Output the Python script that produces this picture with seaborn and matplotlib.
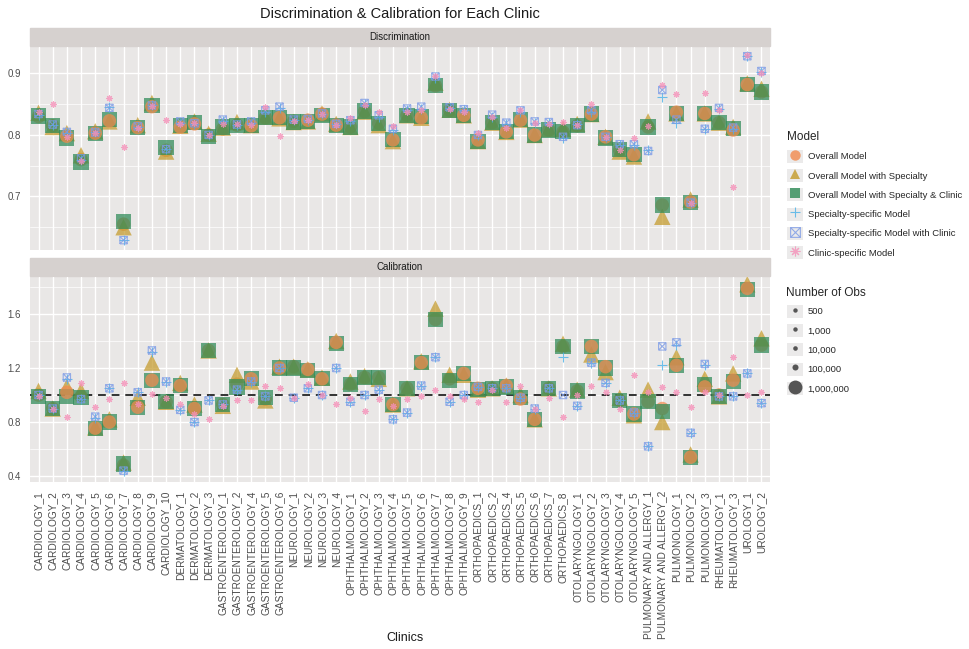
import numpy as np
import pandas as pd
import matplotlib
matplotlib.use("Agg")
import matplotlib.pyplot as plt
from matplotlib.path import Path
from matplotlib.lines import Line2D
from matplotlib.patches import Rectangle
import seaborn as sns

clinics = [
    "CARDIOLOGY_1", "CARDIOLOGY_2", "CARDIOLOGY_3", "CARDIOLOGY_4", "CARDIOLOGY_5",
    "CARDIOLOGY_6", "CARDIOLOGY_7", "CARDIOLOGY_8", "CARDIOLOGY_9", "CARDIOLOGY_10",
    "DERMATOLOGY_1", "DERMATOLOGY_2", "DERMATOLOGY_3",
    "GASTROENTEROLOGY_1", "GASTROENTEROLOGY_2", "GASTROENTEROLOGY_4",
    "GASTROENTEROLOGY_5", "GASTROENTEROLOGY_6",
    "NEUROLOGY_1", "NEUROLOGY_2", "NEUROLOGY_3", "NEUROLOGY_4",
    "OPHTHALMOLOGY_1", "OPHTHALMOLOGY_2", "OPHTHALMOLOGY_3", "OPHTHALMOLOGY_4",
    "OPHTHALMOLOGY_5", "OPHTHALMOLOGY_6", "OPHTHALMOLOGY_7", "OPHTHALMOLOGY_8",
    "OPHTHALMOLOGY_9",
    "ORTHOPAEDICS_1", "ORTHOPAEDICS_2", "ORTHOPAEDICS_4", "ORTHOPAEDICS_5",
    "ORTHOPAEDICS_6", "ORTHOPAEDICS_7", "ORTHOPAEDICS_8",
    "OTOLARYNGOLOGY_1", "OTOLARYNGOLOGY_2", "OTOLARYNGOLOGY_3", "OTOLARYNGOLOGY_4",
    "OTOLARYNGOLOGY_5",
    "PULMONARY AND ALLERGY_1", "PULMONARY AND ALLERGY_2",
    "PULMONOLOGY_1", "PULMONOLOGY_2", "PULMONOLOGY_3",
    "RHEUMATOLOGY_1", "RHEUMATOLOGY_3",
    "UROLOGY_1", "UROLOGY_2",
]

models = [
    "Overall Model",
    "Overall Model with Specialty",
    "Overall Model with Specialty & Clinic",
    "Specialty-specific Model",
    "Specialty-specific Model with Clinic",
    "Clinic-specific Model",
]

# discrimination (c-statistic), one list per model
disc_om = [0.830, 0.815, 0.798, 0.760, 0.803, 0.823, 0.655, 0.812, 0.846, 0.775,
           0.813, 0.818, 0.800, 0.810, 0.816, 0.815, 0.828, 0.828, 0.822, 0.824,
           0.834, 0.816, 0.813, 0.838, 0.819, 0.792, 0.832, 0.828, 0.880, 0.840,
           0.832, 0.792, 0.820, 0.805, 0.824, 0.800, 0.808, 0.805, 0.815, 0.834,
           0.797, 0.775, 0.768, 0.813, 0.686, 0.837, 0.691, 0.835, 0.820, 0.808,
           0.882, 0.870]
disc_oms = [0.836, 0.813, 0.803, 0.767, 0.806, 0.822, 0.650, 0.816, 0.852, 0.773,
            0.815, 0.822, 0.802, 0.812, 0.821, 0.816, 0.830, 0.827, 0.821, 0.822,
            0.835, 0.818, 0.813, 0.838, 0.816, 0.790, 0.832, 0.828, 0.885, 0.841,
            0.832, 0.790, 0.820, 0.805, 0.825, 0.800, 0.810, 0.810, 0.818, 0.834,
            0.797, 0.773, 0.765, 0.822, 0.667, 0.835, 0.695, 0.835, 0.820, 0.813,
            0.884, 0.875]
disc_omsc = [0.831, 0.815, 0.795, 0.756, 0.803, 0.825, 0.659, 0.812, 0.848, 0.779,
             0.815, 0.820, 0.797, 0.813, 0.815, 0.815, 0.829, 0.828, 0.821, 0.822,
             0.832, 0.815, 0.813, 0.839, 0.819, 0.792, 0.832, 0.830, 0.880, 0.840,
             0.832, 0.790, 0.820, 0.805, 0.825, 0.800, 0.808, 0.805, 0.815, 0.834,
             0.795, 0.776, 0.768, 0.813, 0.686, 0.835, 0.690, 0.835, 0.820, 0.810,
             0.882, 0.870]
disc_ss = [0.832, 0.816, 0.803, 0.760, 0.805, 0.846, 0.629, 0.813, 0.849, 0.777,
           0.820, 0.818, 0.800, 0.822, 0.816, 0.820, 0.838, 0.844, 0.824, 0.825,
           0.834, 0.818, 0.822, 0.850, 0.830, 0.808, 0.841, 0.843, 0.892, 0.844,
           0.840, 0.800, 0.830, 0.818, 0.838, 0.820, 0.820, 0.795, 0.818, 0.838,
           0.797, 0.783, 0.783, 0.775, 0.862, 0.820, 0.690, 0.810, 0.842, 0.810,
           0.928, 0.902]
disc_ssc = [0.834, 0.817, 0.805, 0.762, 0.804, 0.844, 0.629, 0.814, 0.848, 0.777,
            0.822, 0.819, 0.800, 0.825, 0.817, 0.822, 0.840, 0.846, 0.825, 0.826,
            0.835, 0.818, 0.824, 0.852, 0.832, 0.810, 0.843, 0.846, 0.895, 0.845,
            0.842, 0.800, 0.833, 0.820, 0.840, 0.822, 0.821, 0.797, 0.816, 0.840,
            0.797, 0.785, 0.785, 0.774, 0.873, 0.825, 0.690, 0.810, 0.844, 0.812,
            0.928, 0.904]
disc_cs = [0.838, 0.850, 0.796, 0.758, 0.803, 0.860, 0.780, 0.812, 0.847, 0.825,
           0.818, 0.820, 0.800, 0.818, 0.818, 0.817, 0.845, 0.798, 0.822, 0.824,
           0.834, 0.816, 0.827, 0.848, 0.837, 0.815, 0.838, 0.840, 0.896, 0.843,
           0.838, 0.803, 0.830, 0.812, 0.840, 0.820, 0.818, 0.821, 0.816, 0.850,
           0.796, 0.776, 0.795, 0.815, 0.881, 0.866, 0.690, 0.868, 0.840, 0.715,
           0.930, 0.900]

# calibration (observed / expected), one list per model
cal_om = [1.00, 0.90, 1.02, 0.99, 0.755, 0.80, 0.48, 0.91, 1.11, 0.95,
          1.07, 0.90, 1.33, 0.93, 1.08, 1.12, 0.97, 1.20, 1.21, 1.19,
          1.12, 1.39, 1.08, 1.13, 1.13, 0.93, 1.05, 1.24, 1.56, 1.12,
          1.16, 1.05, 1.05, 1.07, 0.97, 0.82, 1.05, 1.36, 1.03, 1.36,
          1.21, 0.96, 0.86, 0.95, 0.90, 1.22, 0.54, 1.06, 1.00, 1.11,
          1.79, 1.37]
cal_oms = [1.03, 0.90, 1.06, 1.03, 0.76, 0.82, 0.50, 0.98, 1.24, 0.95,
           1.09, 0.93, 1.33, 0.92, 1.15, 1.10, 0.96, 1.21, 1.21, 1.19,
           1.13, 1.40, 1.10, 1.14, 1.12, 0.93, 1.05, 1.25, 1.64, 1.15,
           1.15, 1.04, 1.05, 1.07, 1.00, 0.82, 1.05, 1.38, 1.04, 1.30,
           1.17, 0.98, 0.85, 1.04, 0.80, 1.28, 0.56, 1.12, 0.99, 1.16,
           1.82, 1.42]
cal_omsc = [0.99, 0.90, 0.99, 0.98, 0.75, 0.80, 0.49, 0.91, 1.11, 0.95,
            1.07, 0.90, 1.33, 0.93, 1.06, 1.12, 0.98, 1.20, 1.20, 1.18,
            1.12, 1.38, 1.08, 1.13, 1.13, 0.93, 1.05, 1.24, 1.56, 1.11,
            1.16, 1.04, 1.05, 1.06, 0.98, 0.82, 1.05, 1.36, 1.03, 1.36,
            1.20, 0.96, 0.86, 0.95, 0.88, 1.22, 0.54, 1.08, 0.99, 1.10,
            1.78, 1.37]
cal_ss = [1.00, 0.90, 1.12, 0.97, 0.83, 1.05, 0.44, 1.02, 1.32, 1.10,
          0.89, 0.80, 0.96, 0.93, 1.04, 1.10, 0.99, 1.20, 0.98, 1.05,
          1.00, 1.20, 0.95, 1.00, 1.04, 0.82, 0.87, 1.07, 1.28, 0.95,
          1.00, 1.06, 1.05, 1.05, 0.98, 0.90, 1.05, 1.28, 0.92, 1.24,
          1.09, 0.96, 0.87, 0.62, 1.22, 1.37, 0.72, 1.22, 0.99, 0.99,
          1.16, 0.94]
cal_ssc = [1.00, 0.90, 1.13, 0.97, 0.84, 1.05, 0.44, 1.02, 1.33, 1.10,
           0.89, 0.80, 0.96, 0.93, 1.04, 1.10, 0.99, 1.20, 0.98, 1.05,
           1.00, 1.20, 0.95, 1.00, 1.04, 0.82, 0.87, 1.07, 1.28, 0.95,
           1.00, 1.06, 1.05, 1.05, 0.98, 0.90, 1.05, 1.00, 0.92, 1.24,
           1.09, 0.96, 0.87, 0.62, 1.36, 1.39, 0.72, 1.23, 0.99, 0.99,
           1.16, 0.94]
cal_cs = [0.99, 0.90, 0.84, 1.09, 0.91, 0.97, 1.09, 0.93, 1.01, 0.98,
          0.93, 0.86, 0.82, 0.92, 0.96, 0.96, 1.07, 1.05, 0.98, 1.08,
          1.00, 0.93, 0.98, 0.88, 0.97, 0.92, 0.97, 0.99, 1.04, 0.99,
          0.97, 0.95, 1.04, 0.95, 1.07, 0.90, 0.98, 0.84, 1.00, 1.07,
          1.02, 0.90, 1.15, 1.02, 1.06, 1.02, 0.91, 1.02, 1.00, 1.28,
          1.00, 1.02]

# training-set size behind each model type (drives marker size)
n_obs = [1000000, 1000000, 1000000, 200000, 200000, 20000]
size_breaks = [500, 1000, 10000, 100000, 1000000]
size_labels = ["500", "1,000", "10,000", "100,000", "1,000,000"]

colors = ["#F28A4E", "#C49A2A", "#2E8B57", "#49B1E8", "#7C9BE6", "#F590B8"]

# clinics whose overall-model circle ends up drawn above the square
circle_on_top = [2, 4, 5, 7, 8, 10, 11, 15, 17, 19, 20, 21, 25, 27, 30, 31,
                 33, 34, 35, 39, 40, 42, 45, 46, 47, 49, 50]

# ggplot-like shapes: circle, triangle, square, plus, boxed cross, asterisk
boxed_x = Path(
    [(-0.5, -0.5), (0.5, -0.5), (0.5, 0.5), (-0.5, 0.5), (-0.5, -0.5),
     (-0.5, -0.5), (0.5, 0.5), (-0.5, 0.5), (0.5, -0.5)],
    [Path.MOVETO, Path.LINETO, Path.LINETO, Path.LINETO, Path.LINETO,
     Path.MOVETO, Path.LINETO, Path.MOVETO, Path.LINETO],
)
markers = ["o", "^", "s", "+", boxed_x, (8, 2, 0)]
shape_factor = [0.95, 1.4, 1.2, 1.6, 1.0, 1.5]
line_art = [False, False, False, True, True, True]

disc = [disc_om, disc_oms, disc_omsc, disc_ss, disc_ssc, disc_cs]
cal = [cal_om, cal_oms, cal_omsc, cal_ss, cal_ssc, cal_cs]

rows = []
for m, name in enumerate(models):
    for i, c in enumerate(clinics):
        rows.append({"clinic": c, "pos": i, "model": name, "n": n_obs[m],
                     "top": i in circle_on_top,
                     "Discrimination": disc[m][i], "Calibration": cal[m][i]})
df = pd.DataFrame(rows)


def area(n):
    return 10 + 90 * n / 1e6


sns.set_style("darkgrid")
plt.rcParams["font.family"] = ["Liberation Sans", "DejaVu Sans"]

panel_bg = "#E9E7E6"
strip_bg = "#D6D1CF"

fig = plt.figure(figsize=(9.69, 6.49), dpi=100)
ax1 = fig.add_axes([30 / 969, 1 - 250 / 649, 740 / 969, 203 / 649])
ax2 = fig.add_axes([30 / 969, 1 - 482 / 649, 740 / 969, 205 / 649], sharex=ax1)

# (model index, subset filter) in drawing order
layers = [(0, False), (1, None), (2, None), (0, True), (3, None), (4, None), (5, None)]
for ax, metric in [(ax1, "Discrimination"), (ax2, "Calibration")]:
    ax.set_facecolor(panel_bg)
    if metric == "Calibration":
        ax.axhline(1.0, color="#333333", lw=1.4, ls=(0, (4, 3)), zorder=1)
    for z, (m, top) in enumerate(layers):
        sub = df[df["model"] == models[m]]
        if top is not None:
            sub = sub[sub["top"] == top]
        kw = dict(s=area(n_obs[m]) * shape_factor[m], marker=markers[m], ax=ax,
                  zorder=3 + z, legend=False)
        if line_art[m]:
            if m == 4:
                kw.update(facecolor="none", edgecolor=colors[m], linewidth=0.8,
                          color=colors[m], alpha=0.8)
            else:
                kw.update(color=colors[m], linewidth=0.8, alpha=0.8)
        else:
            kw.update(color=colors[m], edgecolor="none", alpha=0.72)
        sns.scatterplot(data=sub, x="pos", y=metric, **kw)
    ax.set_xlabel("")
    ax.set_ylabel("")
    ax.grid(True, which="major", color="white", lw=1.0)
    ax.grid(True, which="minor", axis="y", color="white", lw=0.5)
    for s in ax.spines.values():
        s.set_visible(False)
    ax.tick_params(axis="both", which="major", length=3, width=0.8,
                   color="#333333", labelcolor="#4D4D4D", labelsize=7)
    ax.tick_params(axis="both", which="minor", length=0)
    # facet strip
    h = 18 / 204
    ax.add_patch(Rectangle((0, 1.005), 1, h, transform=ax.transAxes,
                           clip_on=False, color=strip_bg, zorder=0))
    ax.text(0.5, 1.005 + h / 2, metric, transform=ax.transAxes,
            ha="center", va="center", fontsize=7, color="#1A1A1A")

ax1.set_ylim(0.613, 0.943)
ax1.set_yticks([0.7, 0.8, 0.9])
ax1.set_yticks([0.65, 0.75, 0.85], minor=True)
ax2.set_ylim(0.356, 1.874)
ax2.set_yticks([0.4, 0.8, 1.2, 1.6])
ax2.set_yticks([0.6, 1.0, 1.4, 1.8], minor=True)

ax2.set_xlim(-0.6, len(clinics) - 0.4)
ax2.set_xticks(range(len(clinics)))
ax2.set_xticklabels(clinics, rotation=90, fontsize=7.3, color="#4D4D4D")
plt.setp(ax1.get_xticklabels(), visible=False)
ax1.tick_params(axis="x", length=0)

fig.text(400 / 969, 1 - 14 / 649, "Discrimination & Calibration for Each Clinic",
         ha="center", va="center", fontsize=10.5, color="#1A1A1A")
fig.text(405 / 969, 1 - 638 / 649, "Clinics", ha="center", va="center",
         fontsize=9, color="#1A1A1A")


def key_box():
    return Rectangle((0, 0), 1, 1, facecolor="#EBEAEA", edgecolor="none")


model_handles = [
    (key_box(),
     Line2D([], [], linestyle="", marker=markers[m], color=colors[m],
            markerfacecolor=("none" if m == 4 else colors[m]),
            markersize=(7.5 if m < 3 else 7), alpha=0.8,
            markeredgewidth=(0 if m < 3 else 0.8)))
    for m in range(len(models))
]
leg1 = fig.legend(model_handles, models, title="Model", loc="upper left",
                  bbox_to_anchor=(778 / 969, 1 - 123 / 649), frameon=False,
                  fontsize=6.8, title_fontsize=8.5, labelspacing=0.66,
                  handleheight=1.75, handlelength=1.75,
                  handletextpad=0.5, alignment="left")
size_handles = [
    (key_box(),
     Line2D([], [], linestyle="", marker="o", color="#555555",
            markersize=np.sqrt(area(b)), markeredgewidth=0))
    for b in size_breaks
]
leg2 = fig.legend(size_handles, size_labels, title="Number of Obs", loc="upper left",
                  bbox_to_anchor=(778 / 969, 1 - 278 / 649), frameon=False,
                  fontsize=6.8, title_fontsize=8.5, labelspacing=0.66,
                  handleheight=1.75, handlelength=1.75,
                  handletextpad=0.5, alignment="left")

fig.savefig("out.png", dpi=100)
